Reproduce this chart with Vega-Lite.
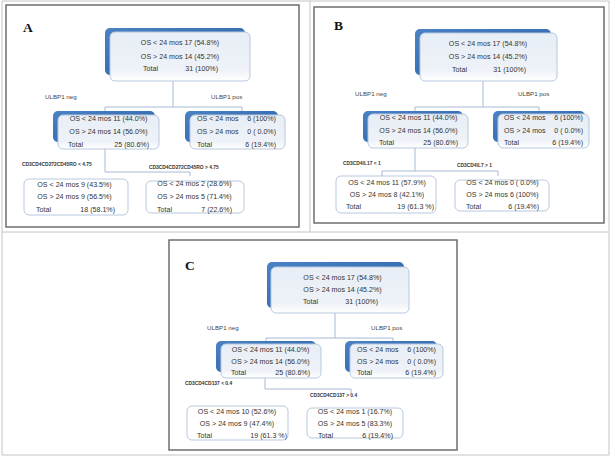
{
  "$schema": "https://vega.github.io/schema/vega-lite/v6.json",
  "width": 611,
  "height": 457,
  "padding": 0,
  "autosize": {"type": "none"},
  "background": "white",
  "config": {"view": {"stroke": null}},
  "datasets": {
    "frame": [
      {"x1": 2, "y1": 1, "x2": 609, "y2": 1},
      {"x1": 2, "y1": 232, "x2": 609, "y2": 232},
      {"x1": 2, "y1": 455, "x2": 609, "y2": 455},
      {"x1": 2, "y1": 1, "x2": 2, "y2": 455},
      {"x1": 310, "y1": 1, "x2": 310, "y2": 232},
      {"x1": 609, "y1": 1, "x2": 609, "y2": 455}
    ],
    "panels": [
      {"x1": 6, "y1": 5, "x2": 299, "y2": 227},
      {"x1": 314, "y1": 7, "x2": 604, "y2": 223},
      {"x1": 169, "y1": 240, "x2": 457, "y2": 450}
    ],
    "shadows": [
      {"x1": 105, "y1": 28, "x2": 245, "y2": 75},
      {"x1": 53, "y1": 111, "x2": 155, "y2": 142},
      {"x1": 185, "y1": 111, "x2": 278, "y2": 142},
      {"x1": 415, "y1": 29, "x2": 551, "y2": 75},
      {"x1": 363, "y1": 111, "x2": 463, "y2": 142},
      {"x1": 493, "y1": 111, "x2": 585, "y2": 142},
      {"x1": 267, "y1": 262, "x2": 404, "y2": 308},
      {"x1": 216, "y1": 341, "x2": 316, "y2": 372},
      {"x1": 345, "y1": 341, "x2": 437, "y2": 372}
    ],
    "boxes": [
      {"kind": "node", "x1": 110, "y1": 32, "x2": 250, "y2": 81},
      {"kind": "node", "x1": 58, "y1": 115, "x2": 159, "y2": 149},
      {"kind": "node", "x1": 190, "y1": 115, "x2": 285, "y2": 149},
      {"kind": "leaf", "x1": 24, "y1": 179, "x2": 128, "y2": 215},
      {"kind": "leaf", "x1": 146, "y1": 181, "x2": 244, "y2": 213},
      {"kind": "node", "x1": 420, "y1": 33, "x2": 557, "y2": 81},
      {"kind": "node", "x1": 368, "y1": 114, "x2": 468, "y2": 148},
      {"kind": "node", "x1": 498, "y1": 114, "x2": 589, "y2": 148},
      {"kind": "leaf", "x1": 336, "y1": 176, "x2": 436, "y2": 213},
      {"kind": "leaf", "x1": 455, "y1": 180, "x2": 549, "y2": 211},
      {"kind": "node", "x1": 271, "y1": 267, "x2": 409, "y2": 313},
      {"kind": "node", "x1": 221, "y1": 344, "x2": 321, "y2": 378},
      {"kind": "node", "x1": 350, "y1": 344, "x2": 443, "y2": 378},
      {"kind": "leaf", "x1": 187, "y1": 406, "x2": 288, "y2": 440},
      {"kind": "leaf", "x1": 307, "y1": 408, "x2": 403, "y2": 438}
    ],
    "links": [
      {"x1": 173, "y1": 81, "x2": 173, "y2": 107},
      {"x1": 105, "y1": 107, "x2": 242, "y2": 107},
      {"x1": 105, "y1": 107, "x2": 105, "y2": 111},
      {"x1": 242, "y1": 107, "x2": 242, "y2": 111},
      {"x1": 105, "y1": 149, "x2": 105, "y2": 172},
      {"x1": 105, "y1": 172, "x2": 190, "y2": 172},
      {"x1": 190, "y1": 172, "x2": 190, "y2": 176},
      {"x1": 483, "y1": 81, "x2": 483, "y2": 107},
      {"x1": 415, "y1": 107, "x2": 539, "y2": 107},
      {"x1": 415, "y1": 107, "x2": 415, "y2": 111},
      {"x1": 539, "y1": 107, "x2": 539, "y2": 111},
      {"x1": 415, "y1": 148, "x2": 415, "y2": 171},
      {"x1": 382, "y1": 171, "x2": 498, "y2": 171},
      {"x1": 382, "y1": 171, "x2": 382, "y2": 176},
      {"x1": 498, "y1": 171, "x2": 498, "y2": 176},
      {"x1": 335, "y1": 313, "x2": 335, "y2": 338},
      {"x1": 266, "y1": 338, "x2": 393, "y2": 338},
      {"x1": 266, "y1": 338, "x2": 266, "y2": 341},
      {"x1": 393, "y1": 338, "x2": 393, "y2": 341},
      {"x1": 265, "y1": 378, "x2": 265, "y2": 389},
      {"x1": 265, "y1": 389, "x2": 351, "y2": 389},
      {"x1": 351, "y1": 389, "x2": 351, "y2": 393}
    ],
    "texts": [
      {"panel": "A", "side": "center", "x": 180, "y": 43, "text": "OS < 24 mos 17 (54.8%)"},
      {"panel": "A", "side": "center", "x": 180, "y": 57, "text": "OS > 24 mos 14 (45.2%)"},
      {"panel": "A", "side": "left", "x": 143, "y": 69, "text": "Total"},
      {"panel": "A", "side": "right", "x": 218, "y": 69, "text": "31 (100%)"},
      {"panel": "A", "side": "center", "x": 108.5, "y": 119, "text": "OS < 24 mos 11 (44.0%)"},
      {"panel": "A", "side": "center", "x": 108.5, "y": 132, "text": "OS > 24 mos 14 (56.0%)"},
      {"panel": "A", "side": "left", "x": 68, "y": 145, "text": "Total"},
      {"panel": "A", "side": "right", "x": 149, "y": 145, "text": "25 (80.6%)"},
      {"panel": "A", "side": "left", "x": 197, "y": 119, "text": "OS < 24 mos"},
      {"panel": "A", "side": "right", "x": 276, "y": 119, "text": "6 (100%)"},
      {"panel": "A", "side": "left", "x": 197, "y": 132, "text": "OS > 24 mos"},
      {"panel": "A", "side": "right", "x": 276, "y": 132, "text": "0 ( 0.0%)"},
      {"panel": "A", "side": "left", "x": 197, "y": 145, "text": "Total"},
      {"panel": "A", "side": "right", "x": 276, "y": 145, "text": "6  (19.4%)"},
      {"panel": "A", "side": "center", "x": 74.5, "y": 185, "text": "OS < 24 mos 9 (43.5%)"},
      {"panel": "A", "side": "center", "x": 74.5, "y": 197, "text": "OS > 24 mos 9 (56.5%)"},
      {"panel": "A", "side": "left", "x": 36, "y": 210, "text": "Total"},
      {"panel": "A", "side": "right", "x": 115, "y": 210, "text": "18 (58.1%)"},
      {"panel": "A", "side": "center", "x": 194.5, "y": 184, "text": "OS < 24 mos 2 (28.6%)"},
      {"panel": "A", "side": "center", "x": 194.5, "y": 197, "text": "OS > 24 mos 5 (71.4%)"},
      {"panel": "A", "side": "left", "x": 157, "y": 210, "text": "Total"},
      {"panel": "A", "side": "right", "x": 232, "y": 210, "text": "7 (22.6%)"},

      {"panel": "B", "side": "center", "x": 488, "y": 44, "text": "OS < 24 mos 17 (54.8%)"},
      {"panel": "B", "side": "center", "x": 488, "y": 57, "text": "OS > 24 mos 14 (45.2%)"},
      {"panel": "B", "side": "left", "x": 452, "y": 70, "text": "Total"},
      {"panel": "B", "side": "right", "x": 526, "y": 70, "text": "31 (100%)"},
      {"panel": "B", "side": "center", "x": 418.5, "y": 118, "text": "OS < 24 mos 11 (44.0%)"},
      {"panel": "B", "side": "center", "x": 418.5, "y": 131, "text": "OS > 24 mos 14 (56.0%)"},
      {"panel": "B", "side": "left", "x": 379, "y": 143, "text": "Total"},
      {"panel": "B", "side": "right", "x": 458, "y": 143, "text": "25 (80.6%)"},
      {"panel": "B", "side": "left", "x": 504, "y": 118, "text": "OS < 24 mos"},
      {"panel": "B", "side": "right", "x": 583, "y": 118, "text": "6 (100%)"},
      {"panel": "B", "side": "left", "x": 504, "y": 131, "text": "OS > 24 mos"},
      {"panel": "B", "side": "right", "x": 583, "y": 131, "text": "0 ( 0.0%)"},
      {"panel": "B", "side": "left", "x": 504, "y": 143, "text": "Total"},
      {"panel": "B", "side": "right", "x": 583, "y": 143, "text": "6  (19.4%)"},
      {"panel": "B", "side": "center", "x": 387, "y": 183, "text": "OS < 24 mos 11  (57.9%)"},
      {"panel": "B", "side": "center", "x": 387, "y": 195, "text": "OS > 24 mos  8 (42.1%)"},
      {"panel": "B", "side": "left", "x": 346, "y": 207, "text": "Total"},
      {"panel": "B", "side": "right", "x": 434, "y": 207, "text": "19  (61.3 %)"},
      {"panel": "B", "side": "center", "x": 502.5, "y": 183, "text": "OS < 24 mos 0 ( 0.0%)"},
      {"panel": "B", "side": "center", "x": 502.5, "y": 195, "text": "OS > 24 mos 6 (100%)"},
      {"panel": "B", "side": "left", "x": 466, "y": 207, "text": "Total"},
      {"panel": "B", "side": "right", "x": 539, "y": 207, "text": "6 (19.4%)"},

      {"panel": "C", "side": "center", "x": 342.5, "y": 278, "text": "OS < 24 mos 17 (54.8%)"},
      {"panel": "C", "side": "center", "x": 342.5, "y": 290, "text": "OS > 24 mos 14 (45.2%)"},
      {"panel": "C", "side": "left", "x": 303, "y": 302, "text": "Total"},
      {"panel": "C", "side": "right", "x": 378, "y": 302, "text": "31 (100%)"},
      {"panel": "C", "side": "center", "x": 270.5, "y": 350, "text": "OS < 24 mos 11 (44.0%)"},
      {"panel": "C", "side": "center", "x": 270.5, "y": 362, "text": "OS > 24 mos 14 (56.0%)"},
      {"panel": "C", "side": "left", "x": 231, "y": 373, "text": "Total"},
      {"panel": "C", "side": "right", "x": 310, "y": 373, "text": "25 (80.6%)"},
      {"panel": "C", "side": "left", "x": 357, "y": 350, "text": "OS < 24 mos"},
      {"panel": "C", "side": "right", "x": 436, "y": 350, "text": "6 (100%)"},
      {"panel": "C", "side": "left", "x": 357, "y": 362, "text": "OS > 24 mos"},
      {"panel": "C", "side": "right", "x": 436, "y": 362, "text": "0 ( 0.0%)"},
      {"panel": "C", "side": "left", "x": 357, "y": 373, "text": "Total"},
      {"panel": "C", "side": "right", "x": 436, "y": 373, "text": "6 (19.4%)"},
      {"panel": "C", "side": "center", "x": 237, "y": 412, "text": "OS < 24 mos 10  (52.6%)"},
      {"panel": "C", "side": "center", "x": 237, "y": 424, "text": "OS > 24 mos  9  (47.4%)"},
      {"panel": "C", "side": "left", "x": 197, "y": 436, "text": "Total"},
      {"panel": "C", "side": "right", "x": 287, "y": 436, "text": "19  (61.3 %)"},
      {"panel": "C", "side": "center", "x": 355, "y": 412, "text": "OS < 24 mos 1 (16.7%)"},
      {"panel": "C", "side": "center", "x": 355, "y": 424, "text": "OS > 24 mos  5 (83.3%)"},
      {"panel": "C", "side": "left", "x": 318, "y": 436, "text": "Total"},
      {"panel": "C", "side": "right", "x": 393, "y": 436, "text": "6 (19.4%)"}
    ],
    "labels": [
      {"kind": "ulbp", "x": 45, "y": 97, "text": "ULBP1 neg"},
      {"kind": "ulbp", "x": 211, "y": 97, "text": "ULBP1 pos"},
      {"kind": "cd", "x": 22, "y": 165, "text": "CD3CD4CD272CD45RO  < 4.75"},
      {"kind": "cd", "x": 149, "y": 168, "text": "CD3CD4CD272CD45RO  > 4.75"},
      {"kind": "ulbp", "x": 355, "y": 94, "text": "ULBP1 neg"},
      {"kind": "ulbp", "x": 518, "y": 94, "text": "ULBP1 pos"},
      {"kind": "cd", "x": 343, "y": 164, "text": "CD3CD4IL17  < 1"},
      {"kind": "cd", "x": 457, "y": 166, "text": "CD3CD4IL7  > 1"},
      {"kind": "ulbp", "x": 207, "y": 328, "text": "ULBP1 neg"},
      {"kind": "ulbp", "x": 371, "y": 328, "text": "ULBP1 pos"},
      {"kind": "cd", "x": 185, "y": 384, "text": "CD3CD4CD137  < 0.4"},
      {"kind": "cd", "x": 310, "y": 396, "text": "CD3CD4CD137  > 0.4"}
    ],
    "letters": [
      {"x": 23, "y": 28, "text": "A"},
      {"x": 334, "y": 26, "text": "B"},
      {"x": 185, "y": 266, "text": "C"}
    ]
  },
  "layer": [
    {
      "data": {"name": "frame"},
      "mark": {"type": "rule", "color": "#c4c4c4", "strokeWidth": 1},
      "encoding": {
        "x": {"field": "x1", "type": "quantitative", "scale": {"domain": [0, 611], "range": [0, 611], "nice": false, "zero": false}, "axis": null},
        "y": {"field": "y1", "type": "quantitative", "scale": {"domain": [0, 457], "range": [0, 457], "nice": false, "zero": false}, "axis": null},
        "x2": {"field": "x2"},
        "y2": {"field": "y2"}
      }
    },
    {
      "data": {"name": "panels"},
      "mark": {"type": "rect", "fill": "white", "stroke": "#6e6e6e", "strokeWidth": 1.5},
      "encoding": {
        "x": {"field": "x1", "type": "quantitative", "axis": null},
        "y": {"field": "y1", "type": "quantitative", "axis": null},
        "x2": {"field": "x2"},
        "y2": {"field": "y2"}
      }
    },
    {
      "data": {"name": "shadows"},
      "mark": {"type": "rect", "cornerRadius": 5, "fill": {"gradient": "linear", "x1": 0, "y1": 0, "x2": 1, "y2": 1, "stops": [{"offset": 0, "color": "#4a82c4"}, {"offset": 1, "color": "#2a5fa6"}]}},
      "encoding": {
        "x": {"field": "x1", "type": "quantitative", "axis": null},
        "y": {"field": "y1", "type": "quantitative", "axis": null},
        "x2": {"field": "x2"},
        "y2": {"field": "y2"}
      }
    },
    {
      "data": {"name": "boxes"},
      "transform": [{"filter": "datum.kind == 'node'"}],
      "mark": {"type": "rect", "cornerRadius": 5, "stroke": "#b7c9de", "strokeWidth": 1, "fill": {"gradient": "linear", "x1": 0, "y1": 0, "x2": 0, "y2": 1, "stops": [{"offset": 0, "color": "#e8eef6"}, {"offset": 0.78, "color": "#eef2f8"}, {"offset": 1, "color": "#ffffff"}]}},
      "encoding": {
        "x": {"field": "x1", "type": "quantitative", "axis": null},
        "y": {"field": "y1", "type": "quantitative", "axis": null},
        "x2": {"field": "x2"},
        "y2": {"field": "y2"}
      }
    },
    {
      "data": {"name": "boxes"},
      "transform": [{"filter": "datum.kind == 'leaf'"}],
      "mark": {"type": "rect", "cornerRadius": 5, "stroke": "#b7c9de", "strokeWidth": 1, "fill": "#ffffff"},
      "encoding": {
        "x": {"field": "x1", "type": "quantitative", "axis": null},
        "y": {"field": "y1", "type": "quantitative", "axis": null},
        "x2": {"field": "x2"},
        "y2": {"field": "y2"}
      }
    },
    {
      "data": {"name": "links"},
      "mark": {"type": "rule", "color": "#a7bad2", "strokeWidth": 1},
      "encoding": {
        "x": {"field": "x1", "type": "quantitative", "axis": null},
        "y": {"field": "y1", "type": "quantitative", "axis": null},
        "x2": {"field": "x2"},
        "y2": {"field": "y2"}
      }
    },
    {
      "data": {"name": "texts"},
      "transform": [{"filter": "datum.side == 'center'"}],
      "mark": {"type": "text", "align": "center", "baseline": "middle", "font": "Liberation Sans", "color": "#333333"},
      "encoding": {
        "x": {"field": "x", "type": "quantitative", "axis": null},
        "y": {"field": "y", "type": "quantitative", "axis": null},
        "text": {"field": "text"},
        "size": {"field": "panel", "type": "nominal", "scale": {"domain": ["A", "B", "C"], "range": [7.1, 7.1, 6.7]}, "legend": null}
      }
    },
    {
      "data": {"name": "texts"},
      "transform": [{"filter": "datum.side == 'left'"}],
      "mark": {"type": "text", "align": "left", "baseline": "middle", "font": "Liberation Sans", "color": "#333333"},
      "encoding": {
        "x": {"field": "x", "type": "quantitative", "axis": null},
        "y": {"field": "y", "type": "quantitative", "axis": null},
        "text": {"field": "text"},
        "size": {"field": "panel", "type": "nominal", "scale": {"domain": ["A", "B", "C"], "range": [7.1, 7.1, 6.7]}, "legend": null}
      }
    },
    {
      "data": {"name": "texts"},
      "transform": [{"filter": "datum.side == 'right'"}],
      "mark": {"type": "text", "align": "right", "baseline": "middle", "font": "Liberation Sans", "color": "#333333"},
      "encoding": {
        "x": {"field": "x", "type": "quantitative", "axis": null},
        "y": {"field": "y", "type": "quantitative", "axis": null},
        "text": {"field": "text"},
        "size": {"field": "panel", "type": "nominal", "scale": {"domain": ["A", "B", "C"], "range": [7.1, 7.1, 6.7]}, "legend": null}
      }
    },
    {
      "data": {"name": "labels"},
      "transform": [{"filter": "datum.kind == 'ulbp'"}],
      "mark": {"type": "text", "align": "left", "baseline": "middle", "font": "Liberation Sans", "fontSize": 6.2, "color": "#444444"},
      "encoding": {
        "x": {"field": "x", "type": "quantitative", "axis": null},
        "y": {"field": "y", "type": "quantitative", "axis": null},
        "text": {"field": "text"}
      }
    },
    {
      "data": {"name": "labels"},
      "transform": [{"filter": "datum.kind == 'cd'"}],
      "mark": {"type": "text", "align": "left", "baseline": "middle", "font": "Liberation Sans", "fontSize": 4.9, "fontWeight": "bold", "color": "#333333"},
      "encoding": {
        "x": {"field": "x", "type": "quantitative", "axis": null},
        "y": {"field": "y", "type": "quantitative", "axis": null},
        "text": {"field": "text"}
      }
    },
    {
      "data": {"name": "letters"},
      "mark": {"type": "text", "align": "left", "baseline": "middle", "font": "Liberation Serif", "fontSize": 13.5, "fontWeight": "bold", "color": "#111111"},
      "encoding": {
        "x": {"field": "x", "type": "quantitative", "axis": null},
        "y": {"field": "y", "type": "quantitative", "axis": null},
        "text": {"field": "text"}
      }
    }
  ]
}
